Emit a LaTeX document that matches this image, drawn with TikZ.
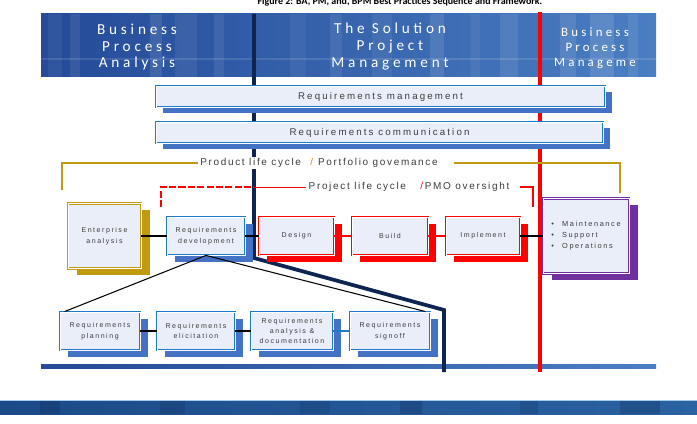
\documentclass[tikz,border=0pt]{standalone}
\usepackage{fontspec}
\setmainfont{Liberation Sans}
\newfontfamily\boxfont[LetterSpace=22]{Liberation Sans}
\newfontfamily\guidefont[LetterSpace=17]{Liberation Sans}
\newfontfamily\bannerfont[LetterSpace=25]{Carlito}
\newfontfamily\titlefont{Carlito}
\usetikzlibrary{shadows}

\definecolor{navy}{HTML}{0D2550}
\definecolor{bxblue}{HTML}{1C7AC8}
\definecolor{shblue}{HTML}{4472C4}
\definecolor{boxfill}{HTML}{E9EEF8}
\definecolor{plgold}{HTML}{C29A12}
\definecolor{bpmpurple}{HTML}{7030A0}
\definecolor{txtgray}{HTML}{3C3C3C}
\definecolor{bandleft}{HTML}{244A98}
\definecolor{bandright}{HTML}{4A7EC2}
\definecolor{footleft}{HTML}{1C4A88}
\definecolor{footright}{HTML}{2A62A2}

\begin{document}
\begin{tikzpicture}[
  x=0.3mm, y=-0.3mm,
  every node/.style={inner sep=1pt},
  plate/.style={draw=#1, double=white, double distance=0.45pt, line width=0.75pt,
    fill=boxfill, align=center, text=txtgray},
  box/.style={plate=bxblue, font=\boxfont\fontsize{6}{9}\selectfont, minimum height=11.4mm,
    drop shadow={shadow xshift=2.4mm, shadow yshift=-2.1mm, fill=shblue, opacity=1}},
  wide/.style={plate=bxblue, font=\boxfont\fontsize{8.3}{10}\selectfont, minimum height=6.3mm,
    drop shadow={shadow xshift=2.1mm, shadow yshift=-1.8mm, fill=shblue, opacity=1}},
  phase/.style={plate=red, font=\boxfont\fontsize{6}{9}\selectfont, minimum height=11.4mm,
    drop shadow={shadow xshift=2.4mm, shadow yshift=-2.1mm, fill=red, opacity=1}},
  goldbox/.style={plate=plgold, font=\boxfont\fontsize{6}{9}\selectfont,
    drop shadow={shadow xshift=2.7mm, shadow yshift=-2.1mm, fill=plgold, opacity=1}},
  purplebox/.style={plate=bpmpurple, font=\boxfont\fontsize{6.3}{9.4}\selectfont,
    drop shadow={shadow xshift=2.7mm, shadow yshift=-2.1mm, fill=bpmpurple, opacity=1}},
  banner/.style={text=white, align=center, font=\bannerfont\fontsize{13}{14.5}\selectfont},
  guide/.style={fill=white, inner xsep=2pt, text=txtgray, font=\guidefont\fontsize{8.5}{10}\selectfont},
  link/.style={draw, line width=0.9pt},
  redlink/.style={draw=red, line width=0.9pt},
  bluelink/.style={draw=bxblue, line width=0.9pt}]

  \useasboundingbox (0,0) rectangle (697,424);

  % title, cut at the top edge
  \begin{scope}
    \clip (0,0) rectangle (697,424);
    \node[anchor=base, font=\titlefont\bfseries\fontsize{8.5}{10}\selectfont] (title) at (400,4.5)
      {Figure 2: BA, PM, and, BPM Best Practices Sequence and Framework.};
  \end{scope}

  % banners
  \shade[left color=bandleft, right color=bandright] (41,14) rectangle (656,77);
  \foreach \sx/\sw/\so in {48/14/0.06, 70/10/0.08, 150/12/0.10, 175/22/0.07, 214/10/0.08,
      290/16/0.06, 330/12/0.08, 372/20/0.06, 430/14/0.10, 470/10/0.06, 500/18/0.09,
      560/16/0.10, 590/24/0.12, 628/10/0.08}
    \fill[white, opacity=\so] (\sx,14) rectangle ++(\sw,63);
  \fill[white, opacity=0.12] (41,58) rectangle (656,60);
  \shade[left color=bandleft, right color=bandright] (41,364) rectangle (656,368);
  \shade[left color=footleft, right color=footright] (0,400) rectangle (697,414);
  \foreach \sx/\sw/\so in {40/20/0.25, 160/25/0.2, 300/30/0.15, 400/22/0.25, 520/18/0.2, 620/40/0.25}
    \fill[navy, opacity=\so] (\sx,400) rectangle ++(\sw,14);
  \draw[white!60!bxblue, line width=0.5pt] (0,400) -- (697,400);

  \node[banner] (bpa) at (137,47) {Business\\Process\\Analysis};
  \node[banner] (spm) at (390,47) {The Solution\\Project\\Management};
  \node[banner, font=\bannerfont\fontsize{11}{12.7}\selectfont] (bpm) at (595,48) {Business\\Process\\Manageme};

  % separators
  \coordinate (ntop) at (254,14);
  \coordinate (nbend) at (254,258);
  \coordinate (nfoot) at (444,310);
  \coordinate (nend) at (444,372);
  \coordinate (rtop) at (540,12);
  \coordinate (rend) at (540,372);
  \draw[navy, line width=3.2pt] (ntop) -- (nbend) -- (nfoot) -- (nend);
  \draw[red, line width=3.2pt] (rtop) -- (rend);

  % life cycle guides
  \node[guide] (plc) at (319,163)
    {Product life cycle \enspace{\color{plgold}/}\enspace Portfolio govemance};
  \node[guide] (pjl) at (409,187)
    {Project life cycle \quad{\color{red}/}\,PMO oversight};
  \coordinate (gl) at (62,190);
  \coordinate (gr) at (620,193);
  \coordinate (rl) at (161,207);
  \coordinate (rm) at (254,187);
  \coordinate (rr) at (533,207);
  \draw[plgold, line width=1.3pt] (gl) |- (plc.west);
  \draw[plgold, line width=1.3pt] ([xshift=4mm]plc.east) -| (gr);
  \draw[red, line width=2.2pt, dash pattern=on 6pt off 2pt] (rl) |- (rm);
  \draw[red, line width=0.8pt] (rm) -- (pjl.west);
  \draw[red, line width=1.6pt] ([xshift=2.5mm]pjl.east) -| (rr);

  % boxes
  \node[wide, minimum width=134.7mm] (rmgmt) at (380.5,96.5) {Requirements management};
  \node[wide, minimum width=134.1mm] (rcomm) at (379.5,132.5) {Requirements communication};
  \node[goldbox, minimum width=21.9mm, minimum height=19.5mm] (ent) at (104.5,236) {Enterprise\\analysis};
  \node[box, minimum width=23.4mm] (rdev) at (206,236) {Requirements\\development};
  \node[phase, minimum width=22.5mm] (design) at (296.5,236) {Design};
  \node[phase, minimum width=22.8mm] (build) at (390,236) {Build};
  \node[phase, minimum width=22.2mm] (impl) at (483,236) {Implement};
  \node[purplebox, minimum width=25.8mm, minimum height=22.5mm, align=left] (maint) at (586,236)
    {\textbullet\hspace{7pt}Maintenance\\\textbullet\hspace{7pt}Support\\\textbullet\hspace{7pt}Operations};
  \node[box, minimum width=24mm] (rplan) at (100,331) {Requirements\\planning};
  \node[box, minimum width=23.4mm] (relic) at (196,331) {Requirements\\elicitation};
  \node[box, minimum width=24.6mm, font=\boxfont\fontsize{6}{8.5}\selectfont] (ranal) at (292,331)
    {Requirements\\analysis \&\\documentation};
  \node[box, minimum width=24mm] (rsign) at (390,331) {Requirements\\signoff};

  % connectors
  \draw[link] (ent) -- (rdev);
  \draw[link] (rdev) -- (design);
  \draw[redlink] (design) -- (build);
  \draw[redlink] (build) -- (impl);
  \draw[link] (impl) -- (maint);
  \draw[link] (rplan) -- (relic);
  \draw[link] (relic) -- (ranal);
  \draw[bluelink] (ranal) -- (rsign);
  \draw[link] ([xshift=1.5mm]rplan.north west) -- (rdev.south) -- ([xshift=-1.5mm]rsign.north east);
\end{tikzpicture}
\end{document}
